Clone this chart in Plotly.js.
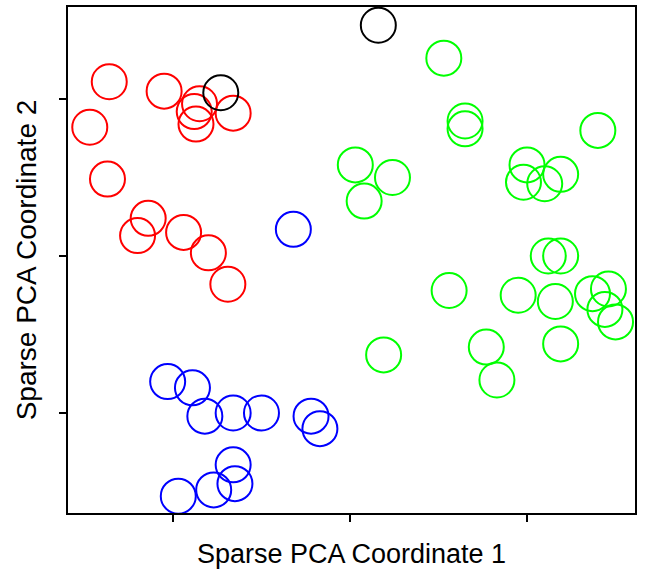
<!DOCTYPE html>
<html>
<head>
<meta charset="utf-8">
<script src="https://cdn.plot.ly/plotly-3.0.1.min.js"></script>
<style>
  html, body { margin: 0; padding: 0; background: #fff; }
  #plot { width: 645px; height: 573px; }
</style>
</head>
<body>
<div id="plot"></div>
<script>
// group 1 (red)
const redX = [-1.36, -1.47, -1.05, -0.85, -0.88, -0.87, -0.66, -1.37, -1.14, -1.20, -0.94, -0.80, -0.69];
const redY = [1.11, 0.82, 1.05, 0.97, 0.92, 0.84, 0.91, 0.49, 0.24, 0.13, 0.15, 0.02, -0.18];
// group 2 (green)
const greenX = [0.53, 0.65, 0.65, 1.40, 0.03, 0.24, 0.08, 1.00, 0.98, 1.19, 1.10, 1.12, 1.19,
    0.56, 0.95, 1.16, 1.37, 1.46, 1.44, 1.50, 1.19, 0.77, 0.83, 0.19];
const greenY = [1.26, 0.86, 0.81, 0.80, 0.58, 0.50, 0.35, 0.58, 0.47, 0.52, 0.46, 0.00, 0.00,
    -0.22, -0.25, -0.29, -0.24, -0.21, -0.34, -0.42, -0.56, -0.58, -0.79, -0.63];
// group 3 (blue)
const blueX = [-0.32, -1.03, -0.89, -0.82, -0.66, -0.50, -0.22, -0.17, -0.66, -0.65, -0.77, -0.97];
const blueY = [0.17, -0.80, -0.84, -1.02, -1.00, -1.00, -1.02, -1.10, -1.33, -1.45, -1.49, -1.53];
// unassigned (black)
const blackX = [-0.73, 0.16];
const blackY = [1.04, 1.47];

const tickVals = [-1, 0, 1];

function group(x, y, color) {
    return {
        x: x,
        y: y,
        type: 'scatter',
        mode: 'markers',
        marker: { symbol: 'circle-open', size: 35, color: color, line: { width: 2, color: color } },
        hoverinfo: 'x+y',
        cliponaxis: false,
    };
}

const data = [
    group(redX, redY, '#ff0000'),
    group(greenX, greenY, '#00ff00'),
    group(blueX, blueY, '#0000ff'),
    group(blackX, blackY, '#000000'),
];

const layout = {
    width: 645,
    height: 573,
    margin: { t: 7, l: 68, r: 10, b: 60 },
    paper_bgcolor: '#ffffff',
    plot_bgcolor: '#ffffff',
    showlegend: false,
    font: { family: 'Liberation Sans, Arial, sans-serif', color: '#000' },
    xaxis: {
        range: [-1.593, 1.610],
        tickvals: tickVals,
        showticklabels: false,
        ticks: 'outside',
        ticklen: 7,
        tickwidth: 1.5,
        tickcolor: '#000',
        showgrid: false,
        zeroline: false,
        showline: true,
        linecolor: '#000',
        linewidth: 1.5,
        mirror: true,
        title: { text: 'Sparse PCA Coordinate 1', font: { size: 27 }, standoff: 23 },
    },
    yaxis: {
        range: [-1.637, 1.586],
        tickvals: tickVals,
        showticklabels: false,
        ticks: 'outside',
        ticklen: 7,
        tickwidth: 1.5,
        tickcolor: '#000',
        showgrid: false,
        zeroline: false,
        showline: true,
        linecolor: '#000',
        linewidth: 1.5,
        mirror: true,
        title: { text: 'Sparse PCA Coordinate 2', font: { size: 28 }, standoff: 14 },
    },
};

Plotly.newPlot('plot', data, layout, { displayModeBar: false });
</script>
</body>
</html>
